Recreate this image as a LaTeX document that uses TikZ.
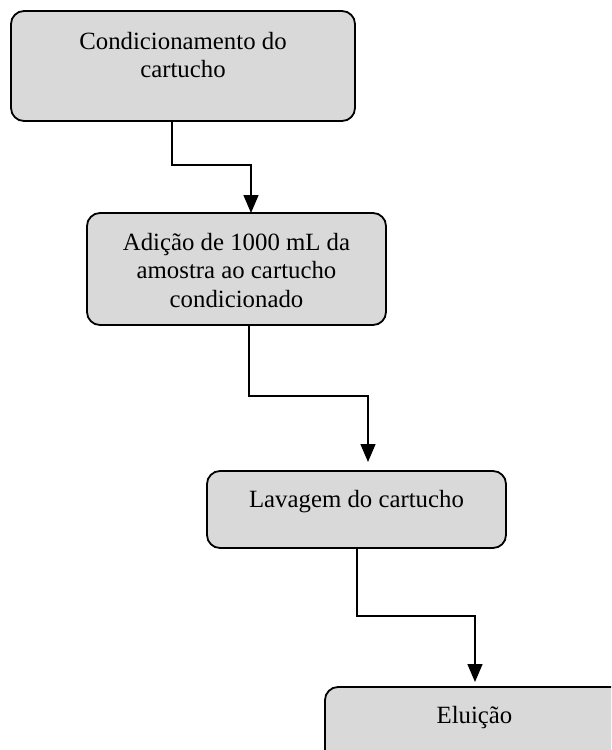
\documentclass[tikz,border=0pt]{standalone}
\usepackage{fontspec}
\setmainfont{Liberation Serif}
\usetikzlibrary{arrows.meta}
\definecolor{boxgray}{HTML}{D9D9D9}
\begin{document}
\begin{tikzpicture}[x=1pt,y=-1pt,
  stepbox/.style={draw=black, line width=1.8pt, fill=boxgray, rounded corners=13pt,
    rectangle, inner sep=0pt, outer sep=0pt},
  txt/.style={anchor=north, align=center, inner sep=0pt, font=\fontsize{24.8}{28.5}\selectfont},
  conn/.style={draw=black, line width=1.5pt, -{Triangle[length=18pt,width=15pt]}}]
\clip (0,0) rectangle (611,750);
\node[stepbox, minimum width=344pt, minimum height=110pt] (b1) at (183,66) {};
\node[stepbox, minimum width=299pt, minimum height=112pt] (b2) at (236.5,269) {};
\node[stepbox, minimum width=299pt, minimum height=77pt] (b3) at (356.5,509.5) {};
\node[stepbox, minimum width=299pt, minimum height=90pt] (b4) at (474.5,732) {};
\node[txt] (t1) at ([yshift=-21pt]b1.north) {Condicionamento do\\cartucho};
\node[txt] (t2) at ([yshift=-20pt]b2.north) {Adição de 1000 mL da\\amostra ao cartucho\\condicionado};
\node[txt] (t3) at ([yshift=-19pt]b3.north) {Lavagem do cartucho};
\node[txt] (t4) at ([yshift=-19pt]b4.north) {Eluição};
\draw[conn] ([xshift=-11pt]b1.south) -- ++(0,44) -| ([xshift=14.5pt]b2.north);
\draw[conn, shorten >=9pt] ([xshift=12.5pt]b2.south) -- ++(0,71) -| ([xshift=11.5pt]b3.north);
\draw[conn, shorten >=5pt] ([xshift=0.5pt]b3.south) -- ++(0,68) -| ([xshift=0.5pt]b4.north);
\end{tikzpicture}
\end{document}
